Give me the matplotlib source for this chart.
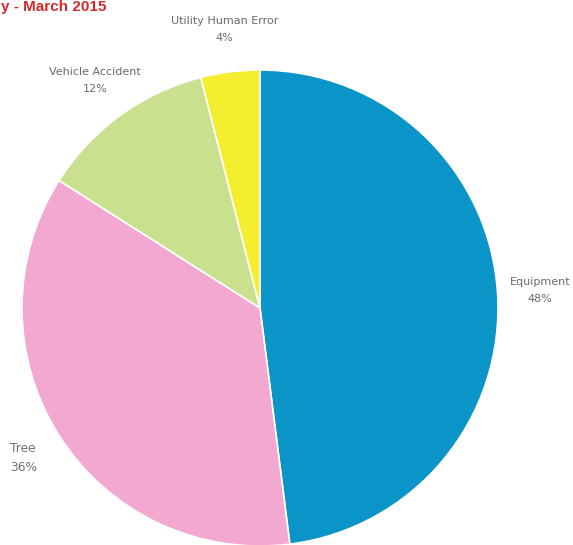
import matplotlib.pyplot as plt

labels = ["Equipment", "Tree", "Vehicle Accident", "Utility Human Error"]
shares = [48, 36, 12, 4]
colors = ["#0a94c8", "#f2a8d0", "#c9e18f", "#f4ee2e"]

fig = plt.figure(figsize=(5.73, 5.45), dpi=100)
# pie centre at about (260, 308) px, radius about 238 px
ax = fig.add_axes([22 / 573, -1 / 545, 476 / 573, 476 / 545])

wedges, texts = ax.pie(
    shares,
    labels=[f"{l}\n{s}%" for l, s in zip(labels, shares)],
    colors=colors,
    startangle=90,
    counterclock=False,
    labeldistance=1.18,
    wedgeprops=dict(edgecolor="white", linewidth=1.2),
    textprops=dict(fontsize=8, color="#6a6a6a", linespacing=1.9),
)
for t in texts:
    t.set_ha("center")
    t.set_va("center")
# the Tree label is left aligned and a bit bigger in the original
texts[1].set_ha("left")
texts[1].set_x(texts[1].get_position()[0] - 0.055)
texts[1].set_fontsize(8.8)
texts[1].set_color("#707070")
texts[1].set_linespacing(1.6)

ax.set_xlim(-1, 1)
ax.set_ylim(-1, 1)

fig.text(1 / 573, 1 - 11 / 545, "y - March 2015", color="#d42a2c",
         fontsize=11, fontweight="bold", ha="left", va="baseline",
         family="Liberation Sans")

fig.savefig("out.png", dpi=100)
